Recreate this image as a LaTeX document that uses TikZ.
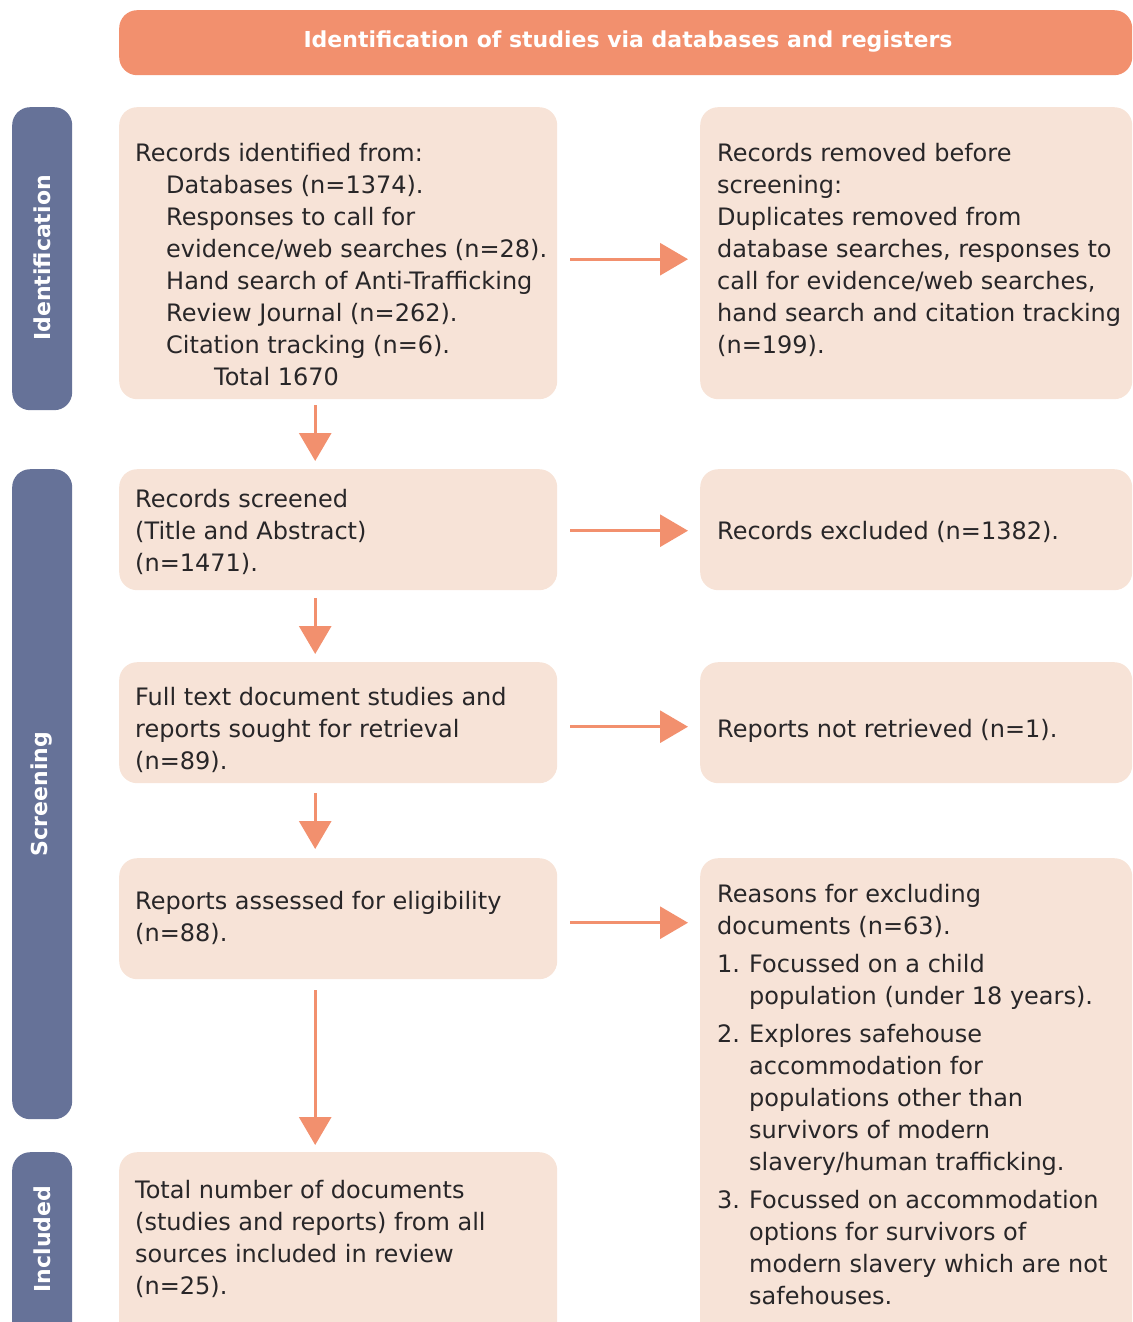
\documentclass[tikz,border=0pt]{standalone}
\usepackage{fontspec}
\setmainfont{DejaVu Sans}
\usetikzlibrary{arrows.meta}
\definecolor{hdr}{RGB}{242,144,110}
\definecolor{boxfill}{RGB}{247,227,215}
\definecolor{side}{RGB}{102,114,152}
\definecolor{txt}{RGB}{40,38,40}
\tikzset{
  box/.style={fill=boxfill, draw=none, rounded corners=18pt, anchor=north west, inner sep=0pt},
  sidebox/.style={fill=side, draw=none, rounded corners=18pt, anchor=north west, inner sep=0pt, minimum width=60pt},
  txtnode/.style={anchor=north west, inner sep=0pt, align=left, text=txt, font=\fontsize{24pt}{32pt}\selectfont},
  sidelabel/.style={rotate=90, text=white, font=\bfseries\fontsize{22pt}{26pt}\selectfont, inner sep=0pt},
  arr/.style={draw=hdr, line width=3pt, -{Triangle[length=28pt,width=32pt]}}
}
\newcommand{\ind}{\hspace*{31pt}}
\newcommand{\fl}{\rule{0pt}{20pt}}
\newcommand{\num}[1]{\makebox[32pt][l]{#1}}
\begin{document}
\begin{tikzpicture}[x=1pt,y=-1pt]
\useasboundingbox (0,0) rectangle (1132,1322);
\clip (0,0) rectangle (1132,1322);
% header
\node[box, fill=hdr, minimum width=1013pt, minimum height=65pt] (hd) at (119,10) {};
\node[text=white, font=\bfseries\fontsize{22pt}{26pt}\selectfont, inner sep=0pt] (hdt) at (628,42) {Identification of studies via databases and registers};
% side boxes
\node[sidebox, minimum height=303pt] (s1) at (12,107) {};
\node[sidebox, minimum height=650pt] (s2) at (12,469) {};
\node[sidebox, minimum height=200pt] (s3) at (12,1152) {};
\node[sidelabel] (s1t) at (42,258) {Identification};
\node[sidelabel] (s2t) at (42,794) {Screening};
\node[sidelabel] (s3t) at (42,1239) {Included};
% left boxes
\node[box, minimum width=438pt, minimum height=292pt] (b1) at (119,107) {};
\node[box, minimum width=438pt, minimum height=121pt] (b2) at (119,469) {};
\node[box, minimum width=438pt, minimum height=121pt] (b3) at (119,662) {};
\node[box, minimum width=438pt, minimum height=121pt] (b4) at (119,858) {};
\node[box, minimum width=438pt, minimum height=200pt] (b5) at (119,1152) {};
% right boxes
\node[box, minimum width=432pt, minimum height=292pt] (r1) at (700,107) {};
\node[box, minimum width=432pt, minimum height=121pt] (r2) at (700,469) {};
\node[box, minimum width=432pt, minimum height=121pt] (r3) at (700,662) {};
\node[box, minimum width=432pt, minimum height=500pt] (r4) at (700,858) {};
% texts
\node[txtnode] (b1t) at (135,141) {\fl Records identified from:\\
\ind Databases (n=1374).\\
\ind Responses to call for\\
\ind evidence/web searches (n=28).\\
\ind Hand search of Anti-Trafficking\\
\ind Review Journal (n=262).\\
\ind Citation tracking (n=6).\\
\hspace*{79pt}Total 1670};
\node[txtnode] (r1t) at (717,141) {\fl Records removed before\\
screening:\\
Duplicates removed from\\
database searches, responses to\\
call for evidence/web searches,\\
hand search and citation tracking\\
(n=199).};
\node[txtnode] (b2t) at (135,487) {\fl Records screened\\
(Title and Abstract)\\
(n=1471).};
\node[txtnode] (r2t) at (717,519) {\fl Records excluded (n=1382).};
\node[txtnode] (b3t) at (135,685) {\fl Full text document studies and\\
reports sought for retrieval\\
(n=89).};
\node[txtnode] (r3t) at (717,717) {\fl Reports not retrieved (n=1).};
\node[txtnode] (b4t) at (135,889) {\fl Reports assessed for eligibility\\
(n=88).};
\node[txtnode] (r4t) at (717,882) {\fl Reasons for excluding\\
documents (n=63).\\[6pt]
\num{1.}Focussed on a child\\
\hspace*{32pt}population (under 18 years).\\[6pt]
\num{2.}Explores safehouse\\
\hspace*{32pt}accommodation for\\
\hspace*{32pt}populations other than\\
\hspace*{32pt}survivors of modern\\
\hspace*{32pt}slavery/human trafficking.\\[6pt]
\num{3.}Focussed on accommodation\\
\hspace*{32pt}options for survivors of\\
\hspace*{32pt}modern slavery which are not\\
\hspace*{32pt}safehouses.};
\node[txtnode] (b5t) at (135,1178) {\fl Total number of documents\\
(studies and reports) from all\\
sources included in review\\
(n=25).};
% arrows
\coordinate (r4in) at (b4.east -| r4.west);
\draw[arr] ([xshift=13pt,yshift=-6pt]b1.east) -- ([xshift=-12pt,yshift=-6pt]r1.west);
\draw[arr] ([xshift=13pt,yshift=-1pt]b2.east) -- ([xshift=-12pt,yshift=-1pt]r2.west);
\draw[arr] ([xshift=13pt,yshift=-4pt]b3.east) -- ([xshift=-12pt,yshift=-4pt]r3.west);
\draw[arr] ([xshift=13pt,yshift=-4pt]b4.east) -- ([xshift=-12pt,yshift=-4pt]r4in);
\draw[arr] ([xshift=-23pt,yshift=-6pt]b1.south) -- ([xshift=-23pt,yshift=8pt]b2.north);
\draw[arr] ([xshift=-23pt,yshift=-8pt]b2.south) -- ([xshift=-23pt,yshift=8pt]b3.north);
\draw[arr] ([xshift=-23pt,yshift=-10pt]b3.south) -- ([xshift=-23pt,yshift=9pt]b4.north);
\draw[arr] ([xshift=-23pt,yshift=-11pt]b4.south) -- ([xshift=-23pt,yshift=7pt]b5.north);
\end{tikzpicture}
\end{document}
